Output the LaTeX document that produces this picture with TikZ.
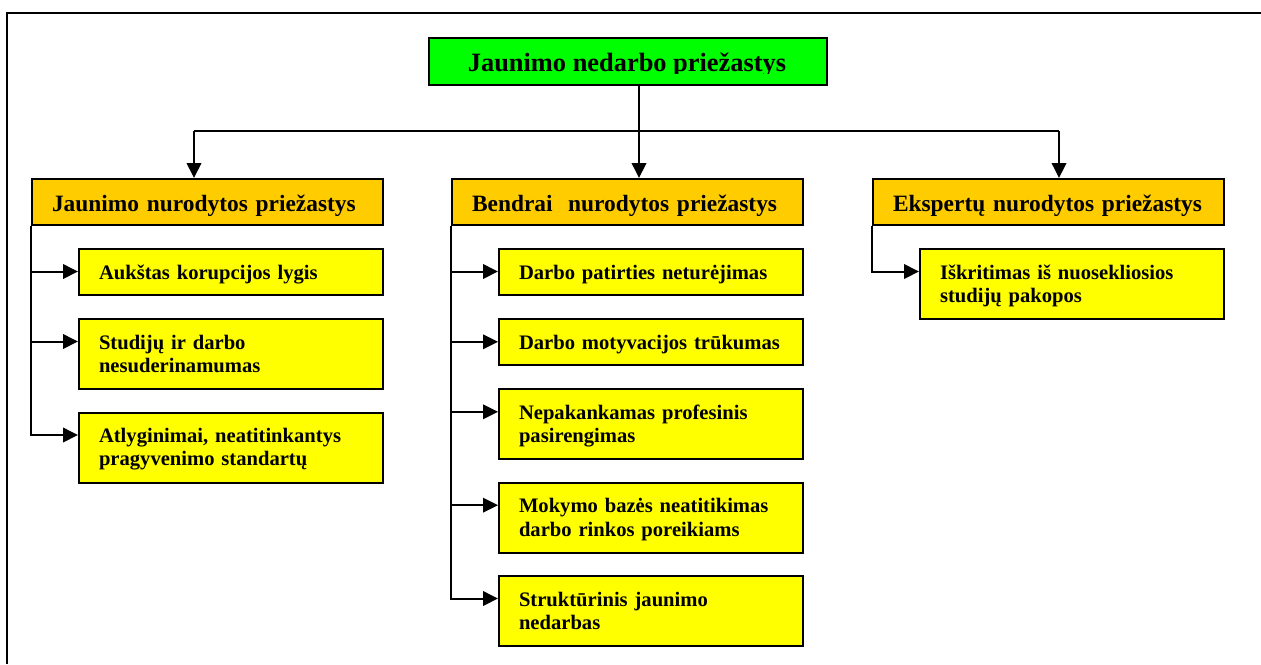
\documentclass[tikz,border=0pt]{standalone}
\usepackage{fontspec}
\setmainfont{Liberation Serif}
\usetikzlibrary{arrows.meta,calc}
\definecolor{tgreen}{HTML}{00FF00}
\definecolor{torange}{HTML}{FFCC00}
\definecolor{tyellow}{HTML}{FFFF00}
\begin{document}
\begin{tikzpicture}[x=1pt,y=-1pt,
  ln/.style={line width=2pt},
  arr/.style={ln,-{Triangle[length=15pt,width=14.5pt]}},
  titlebox/.style={draw,ln,fill=tgreen,anchor=north west,minimum width=398pt,minimum height=47pt,inner sep=0pt},
  titlefont/.style={font=\fontsize{26.4pt}{30pt}\selectfont\bfseries,inner sep=0pt},
  hdr/.style={draw,ln,fill=torange,anchor=north west,text width=311pt,align=left,inner xsep=20pt,inner ysep=0pt,text height=32pt,text depth=14pt,font=\fontsize{23.4pt}{27pt}\selectfont\bfseries},
  item/.style={draw,ln,fill=tyellow,anchor=north west,text width=264pt,align=left,inner xsep=20pt,inner ysep=0pt,text height=30pt,text depth=16pt,font=\fontsize{20.6pt}{23.4pt}\selectfont\bfseries},
  itemtwo/.style={item,text depth=40pt}]
\useasboundingbox (0,0) rectangle (1261,664);
% frame
\coordinate (fbl) at (7,664);
\coordinate (ftl) at (7,13);
\coordinate (ftr) at (1261,13);
\draw[ln] (fbl) -- (ftl) -- (ftr);
% title
\node[titlebox] (title) at (428,37) {};
\begin{scope}
\clip (428,37) rectangle (826,73);
\node[titlefont,anchor=base] (titletext) at (627,71) {Jaunimo nedarbo priežastys};
\end{scope}
% headers
\node[hdr] (hA) at (31,178) {Jaunimo nurodytos priežastys};
\node[hdr] (hB) at (451,178) {Bendrai\ \ nurodytos priežastys};
\node[hdr] (hC) at (872,178) {Ekspertų nurodytos priežastys};
% left items
\node[item] (a1) at (78,248) {Aukštas korupcijos lygis};
\node[itemtwo] (a2) at (78,318) {Studijų ir darbo\\nesuderinamumas};
\node[itemtwo] (a3) at (78,411.5) {Atlyginimai, neatitinkantys\\pragyvenimo standartų};
% middle items
\node[item] (b1) at (498,248) {Darbo patirties neturėjimas};
\node[item] (b2) at (498,318.3) {Darbo motyvacijos trūkumas};
\node[itemtwo] (b3) at (498,388.3) {Nepakankamas profesinis\\pasirengimas};
\node[itemtwo] (b4) at (498,481.7) {Mokymo bazės neatitikimas\\darbo rinkos poreikiams};
\node[itemtwo] (b5) at (498,575) {Struktūrinis jaunimo\\nedarbas};
% right item
\node[itemtwo] (c1) at (919,248) {Iškritimas iš nuosekliosios\\studijų pakopos};
% top connectors
\coordinate (tdrop) at ($(title.south)+(11,0)$);
\coordinate (busL) at (194,131);
\coordinate (busR) at (1059,131);
\draw[ln] (busL) -- (busR);
\draw[arr] (tdrop) -- (tdrop |- hB.north);
\draw[arr] (busL) -- (busL |- hA.north);
\draw[arr] (busR) -- (busR |- hC.north);
% branch points
\foreach \n in {a1,a2,a3,b1,b2,b3,b4,b5,c1}{
  \coordinate (p\n) at ($(\n.north west)+(0,23.5)$);
}
% left branches
\draw[arr] (hA.south west) |- (pa3);
\draw[arr] (hA.south west |- pa1) -- (pa1);
\draw[arr] (hA.south west |- pa2) -- (pa2);
% middle branches
\draw[arr] (hB.south west) |- (pb5);
\draw[arr] (hB.south west |- pb1) -- (pb1);
\draw[arr] (hB.south west |- pb2) -- (pb2);
\draw[arr] (hB.south west |- pb3) -- (pb3);
\draw[arr] (hB.south west |- pb4) -- (pb4);
% right branch
\draw[arr] (hC.south west) |- (pc1);
\end{tikzpicture}
\end{document}
